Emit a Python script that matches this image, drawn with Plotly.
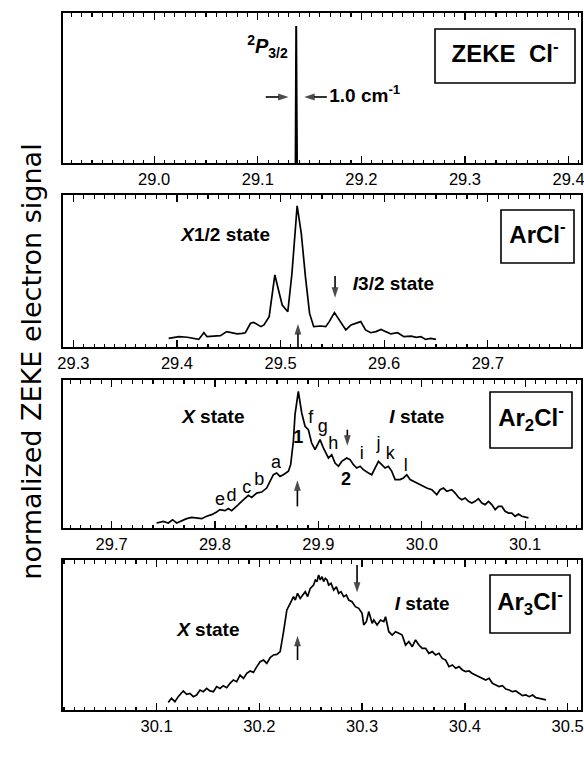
import plotly.graph_objects as go

# ---------------- data ----------------
# Panel 1: ZEKE Cl- (single narrow line)
cl_E = [29.1365, 29.1368, 29.1371, 29.1375, 29.1379]
cl_S = [0.0, 0.40, 1.005, 0.45, 0.0]

# Panel 2: ArCl-
arcl_E = [29.392, 29.402, 29.410, 29.416, 29.421, 29.426, 29.429, 29.4355, 29.442, 29.448,
          29.453, 29.458, 29.463, 29.466, 29.471, 29.474, 29.481, 29.484, 29.489, 29.4945,
          29.498, 29.5016, 29.507, 29.511, 29.516, 29.520, 29.524, 29.528, 29.532, 29.539,
          29.5436, 29.547, 29.552, 29.5565, 29.563, 29.568, 29.5726, 29.5774, 29.582, 29.587,
          29.592, 29.597, 29.6016, 29.6065, 29.613, 29.619, 29.626, 29.631, 29.6355, 29.640,
          29.645, 29.650]
arcl_S = [0.057, 0.068, 0.064, 0.057, 0.050, 0.094, 0.068, 0.072, 0.075, 0.101,
          0.094, 0.086, 0.090, 0.094, 0.156, 0.162, 0.134, 0.145, 0.200, 0.474,
          0.375, 0.276, 0.232, 0.485, 0.928, 0.748, 0.463, 0.221, 0.134, 0.138,
          0.134, 0.167, 0.226, 0.178, 0.112, 0.145, 0.156, 0.167, 0.112, 0.094,
          0.101, 0.116, 0.101, 0.086, 0.094, 0.068, 0.072, 0.064, 0.068, 0.050,
          0.057, 0.050]

# Panel 3: Ar2Cl-
ar2_E = [29.7435, 29.7500, 29.7548, 29.7590, 29.7629, 29.7677, 29.7726, 29.7774, 29.7823, 29.7871,
         29.7919, 29.7968, 29.8016, 29.8048, 29.8097, 29.8129, 29.8161, 29.8194, 29.8226, 29.8258,
         29.8290, 29.8323, 29.8355, 29.8403, 29.8452, 29.8500, 29.8532, 29.8565, 29.8597, 29.8629,
         29.8661, 29.8710, 29.8732, 29.8758, 29.8774, 29.8806, 29.8839, 29.8871, 29.8903, 29.8935,
         29.8968, 29.9016, 29.9048, 29.9097, 29.9129, 29.9161, 29.9194, 29.9226, 29.9274, 29.9306,
         29.9339, 29.9371, 29.9403, 29.9435, 29.9484, 29.9516, 29.9548, 29.9581, 29.9613, 29.9645,
         29.9677, 29.9710, 29.9742, 29.9790, 29.9823, 29.9855, 29.9887, 29.9919, 29.9952, 29.9984,
         30.0016, 30.0048, 30.0097, 30.0145, 30.0177, 30.0210, 30.0242, 30.0290, 30.0323, 30.0355,
         30.0387, 30.0419, 30.0452, 30.0484, 30.0516, 30.0548, 30.0581, 30.0613, 30.0645, 30.0677,
         30.0710, 30.0742, 30.0774, 30.0806, 30.0839, 30.0871, 30.0903, 30.0935, 30.0968, 30.1000,
         30.1032]
ar2_S = [0.034, 0.045, 0.034, 0.056, 0.034, 0.050, 0.063, 0.072, 0.068, 0.063,
         0.079, 0.090, 0.108, 0.124, 0.117, 0.131, 0.117, 0.135, 0.158, 0.180,
         0.203, 0.221, 0.207, 0.236, 0.243, 0.270, 0.315, 0.360, 0.372, 0.349,
         0.360, 0.383, 0.428, 0.586, 0.766, 0.923, 0.777, 0.687, 0.664, 0.574,
         0.529, 0.597, 0.541, 0.473, 0.495, 0.439, 0.417, 0.450, 0.473, 0.462,
         0.428, 0.405, 0.417, 0.394, 0.372, 0.360, 0.405, 0.450, 0.428, 0.405,
         0.417, 0.383, 0.327, 0.327, 0.338, 0.360, 0.327, 0.315, 0.304, 0.293,
         0.282, 0.270, 0.259, 0.225, 0.259, 0.270, 0.248, 0.259, 0.236, 0.207,
         0.191, 0.203, 0.180, 0.169, 0.180, 0.198, 0.169, 0.158, 0.180, 0.158,
         0.124, 0.146, 0.146, 0.113, 0.101, 0.101, 0.079, 0.095, 0.079, 0.072,
         0.068]

# Panel 4: Ar3Cl-
ar3_E = [30.1114, 30.1146, 30.1179, 30.1211, 30.1260, 30.1293, 30.1325, 30.1358, 30.1390, 30.1423,
         30.1455, 30.1488, 30.1520, 30.1553, 30.1585, 30.1618, 30.1650, 30.1683, 30.1715, 30.1748,
         30.1780, 30.1813, 30.1846, 30.1878, 30.1911, 30.1943, 30.1976, 30.2008, 30.2041, 30.2073,
         30.2106, 30.2138, 30.2171, 30.2203, 30.2236, 30.2268, 30.2301, 30.2333, 30.2350, 30.2372,
         30.2398, 30.2424, 30.2447, 30.2470, 30.2496, 30.2528, 30.2545, 30.2561, 30.2577, 30.2593,
         30.2610, 30.2626, 30.2642, 30.2659, 30.2675, 30.2698, 30.2724, 30.2750, 30.2772, 30.2795,
         30.2821, 30.2847, 30.2870, 30.2902, 30.2935, 30.2967, 30.3000, 30.3016, 30.3042, 30.3065,
         30.3081, 30.3098, 30.3114, 30.3146, 30.3179, 30.3211, 30.3228, 30.3260, 30.3293, 30.3325,
         30.3358, 30.3390, 30.3423, 30.3455, 30.3488, 30.3520, 30.3553, 30.3585, 30.3618, 30.3650,
         30.3683, 30.3715, 30.3748, 30.3780, 30.3813, 30.3846, 30.3878, 30.3911, 30.3943, 30.3976,
         30.4008, 30.4041, 30.4073, 30.4106, 30.4138, 30.4171, 30.4203, 30.4236, 30.4268, 30.4301,
         30.4333, 30.4366, 30.4398, 30.4431, 30.4463, 30.4496, 30.4528, 30.4561, 30.4593, 30.4626,
         30.4659, 30.4691, 30.4724, 30.4756, 30.4789]
ar3_S = [0.051, 0.078, 0.056, 0.089, 0.127, 0.104, 0.111, 0.089, 0.100, 0.133,
         0.122, 0.144, 0.127, 0.122, 0.156, 0.144, 0.162, 0.149, 0.178, 0.200,
         0.189, 0.233, 0.211, 0.244, 0.260, 0.251, 0.289, 0.322, 0.333, 0.311,
         0.349, 0.367, 0.371, 0.389, 0.522, 0.667, 0.711, 0.756, 0.733, 0.778,
         0.744, 0.767, 0.789, 0.756, 0.811, 0.833, 0.867, 0.856, 0.900, 0.867,
         0.889, 0.856, 0.878, 0.867, 0.833, 0.844, 0.800, 0.822, 0.778, 0.789,
         0.756, 0.767, 0.733, 0.722, 0.689, 0.678, 0.644, 0.567, 0.589, 0.656,
         0.611, 0.578, 0.600, 0.567, 0.600, 0.589, 0.622, 0.522, 0.500, 0.522,
         0.511, 0.500, 0.433, 0.456, 0.422, 0.467, 0.433, 0.411, 0.411, 0.378,
         0.389, 0.367, 0.378, 0.344, 0.333, 0.289, 0.300, 0.278, 0.289, 0.267,
         0.256, 0.260, 0.244, 0.233, 0.222, 0.211, 0.200, 0.211, 0.178, 0.167,
         0.156, 0.162, 0.140, 0.133, 0.122, 0.127, 0.111, 0.096, 0.100, 0.089,
         0.100, 0.082, 0.078, 0.073, 0.067]

# Arrows: panel index, tail (E, S) and tip (E, S)
arrow_panel = [0, 0, 1, 1, 2, 2, 3, 3]
arrow_tail_E = [29.1077, 29.1667, 29.5168, 29.5526, 29.8797, 29.9280, 30.2372, 30.2951]
arrow_tail_S = [0.484, 0.484, 0.0, 0.467, 0.146, 0.664, 0.333, 0.967]
arrow_tip_E = [29.1336, 29.1410, 29.5168, 29.5526, 29.8797, 29.9280, 30.2372, 30.2951]
arrow_tip_S = [0.484, 0.484, 0.178, 0.298, 0.349, 0.529, 0.522, 0.756]

# Peak letters in the Ar2Cl- panel
letters = ["e", "d", "c", "b", "a", "f", "g", "h", "i", "j", "k", "l"]
letter_x = [29.8048, 29.8161, 29.8306, 29.8429, 29.8590, 29.8926, 29.9042, 29.9145,
            29.9419, 29.9581, 29.9694, 29.9845]
letter_y = [0.185, 0.214, 0.266, 0.320, 0.439, 0.743, 0.680, 0.563, 0.495, 0.563, 0.495, 0.417]

x_ranges = [[28.912, 29.412], [29.29, 29.79], [29.653, 30.154], [30.009, 30.513]]
y_ranges = [[0, 1.1], [0, 1], [0, 1], [0, 1]]
tick_starts = [29.0, 29.3, 29.7, 30.1]

# ---------------- layout helpers ----------------
W, H = 584, 778
def PX(px):
    return px / W
def PY(py):
    return 1 - py / H

FONT = "Liberation Sans, Arial, Helvetica, sans-serif"
panel_px = [(13, 163), (195, 347), (380, 528), (560, 710)]
L_PX, R_PX = 63, 581
SFX = ["", "2", "3", "4"]

def dx(i, px):
    r0, r1 = x_ranges[i]
    return r0 + (px - L_PX) / (R_PX - L_PX) * (r1 - r0)
def dy(i, py):
    top, bot = panel_px[i]
    y0, y1 = y_ranges[i]
    return y0 + (bot - py) / (bot - top) * (y1 - y0)

fig = go.Figure()
series = [(cl_E, cl_S), (arcl_E, arcl_S), (ar2_E, ar2_S), (ar3_E, ar3_S)]
for i, (xe, ys) in enumerate(series):
    fig.add_trace(go.Scatter(x=xe, y=ys, mode="lines",
                             line=dict(color="black", width=1.7 if i else 2.0),
                             xaxis="x" + SFX[i], yaxis="y" + SFX[i],
                             showlegend=False, hoverinfo="skip"))

for p, tx, ty, hx, hy in zip(arrow_panel, arrow_tail_E, arrow_tail_S, arrow_tip_E, arrow_tip_S):
    fig.add_trace(go.Scatter(x=[tx, hx], y=[ty, hy], mode="lines+markers",
                             line=dict(color="black", width=1.6),
                             marker=dict(symbol="arrow", size=[0, 11], color="black",
                                         angleref="previous", standoff=4,
                                         line=dict(width=0)),
                             xaxis="x" + SFX[p], yaxis="y" + SFX[p],
                             showlegend=False, hoverinfo="skip", cliponaxis=False))

# text labels as text traces, one per panel
labels = [[] for _ in range(4)]
def lab(i, x, y, t, size=19, pos="middle center"):
    labels[i].append((x, y, t, size, pos))

lab(0, 29.129, 0.84, "<b><sup>2</sup><i>P</i><sub>3/2</sub></b>", 20, "middle left")
lab(0, 29.1690, 0.484, "<b>1.0 cm<sup>-1</sup></b>", 19, "middle right")
lab(0, dx(0, 505), dy(0, 56), "<b>ZEKE&nbsp; Cl<sup>-</sup></b>", 24)

lab(1, 29.447, 0.726, "<b><i>X</i>1/2 state</b>")
lab(1, 29.609, 0.408, "<b><i>I</i>3/2 state</b>")
lab(1, dx(1, 537.5), dy(1, 236.5), "<b>ArCl<sup>-</sup></b>", 24)

lab(2, 29.7984, 0.743, "<b><i>X</i> state</b>")
lab(2, 29.9952, 0.743, "<b><i>I</i> state</b>")
lab(2, 29.8806, 0.608, "<b>1</b>", 18)
lab(2, 29.9268, 0.320, "<b>2</b>", 18)
for lt, lx, ly in zip(letters, letter_x, letter_y):
    lab(2, lx, ly, lt, 18)
lab(2, dx(2, 531), dy(2, 420), "<b>Ar<sub>2</sub>Cl<sup>-</sup></b>", 24)

lab(3, 30.1504, 0.522, "<b><i>X</i> state</b>")
lab(3, 30.3585, 0.700, "<b><i>I</i> state</b>")
lab(3, dx(3, 530), dy(3, 604), "<b>Ar<sub>3</sub>Cl<sup>-</sup></b>", 24)
lab(3, dx(3, 288), dy(3, 762), "<i>E</i>&nbsp; /&nbsp; 10<sup>3</sup> cm<sup>-1</sup>", 25)

for i in range(4):
    items = labels[i]
    fig.add_trace(go.Scatter(
        x=[t[0] for t in items], y=[t[1] for t in items], mode="text",
        text=[t[2] for t in items], textposition=[t[4] for t in items],
        textfont=dict(family=FONT, size=[t[3] for t in items], color="black"),
        xaxis="x" + SFX[i], yaxis="y" + SFX[i],
        showlegend=False, hoverinfo="skip", cliponaxis=False))

# invisible helper subplot carrying the shared y-axis title
fig.add_trace(go.Scatter(x=[0], y=[0], mode="markers", marker=dict(opacity=0, size=1),
                         xaxis="x5", yaxis="y5", showlegend=False, hoverinfo="skip"))

layout = dict(width=W, height=H, margin=dict(l=0, r=0, t=0, b=0, autoexpand=False),
              paper_bgcolor="white", plot_bgcolor="rgba(0,0,0,0)",
              font=dict(family=FONT, color="black"), showlegend=False)

for i in range(4):
    sfx = SFX[i]
    top, bot = panel_px[i]
    layout["xaxis" + sfx] = dict(
        domain=[PX(L_PX), PX(R_PX)], range=x_ranges[i], anchor="y" + sfx,
        showline=True, linecolor="black", linewidth=2, mirror="ticks",
        ticks="inside", ticklen=7, tickwidth=1.3, tickcolor="black",
        tick0=tick_starts[i], dtick=0.1, tickformat=".1f",
        tickfont=dict(family=FONT, size=16.5, color="black"),
        ticklabeloverflow="allow",
        minor=dict(ticks="inside", ticklen=3.5, tickwidth=1.1, dtick=0.01,
                   tick0=tick_starts[i], tickcolor="black", showgrid=False),
        showgrid=False, zeroline=False, automargin=False)
    layout["yaxis" + sfx] = dict(
        domain=[PY(bot), PY(top)], range=y_ranges[i], anchor="x" + sfx,
        showline=True, linecolor="black", linewidth=2, mirror=True,
        showticklabels=False, ticks="", showgrid=False, zeroline=False,
        automargin=False)

layout["xaxis5"] = dict(domain=[PX(51), PX(56)], anchor="y5", range=[-1, 1],
                        visible=False, automargin=False)
layout["yaxis5"] = dict(domain=[PY(710), PY(13)], anchor="x5", range=[-1, 1],
                        showline=False, showticklabels=False, ticks="",
                        showgrid=False, zeroline=False, automargin=False,
                        title=dict(text="normalized ZEKE electron signal", standoff=0,
                                   font=dict(family="DejaVu Sans, sans-serif", size=27,
                                             color="black")))

fig.update_layout(**layout)

shapes = []
def box(x0, y0, x1, y1):
    shapes.append(dict(type="rect", xref="paper", yref="paper",
                       x0=PX(x0), x1=PX(x1), y0=PY(y1), y1=PY(y0),
                       line=dict(color="black", width=1.6),
                       fillcolor="rgba(0,0,0,0)", layer="above"))
box(435, 29, 575, 83)
box(501, 210, 574, 263)
box(490, 392, 572, 448)
box(490, 575, 570, 633)

fig.update_layout(shapes=shapes)
fig.write_html("out.html", config={"staticPlot": True})
